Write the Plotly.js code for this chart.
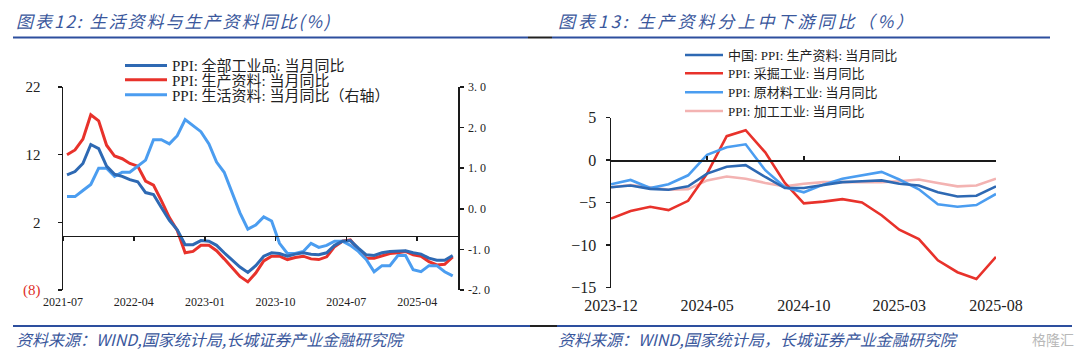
<!DOCTYPE html>
<html><head><meta charset="utf-8">
<script src="https://cdn.plot.ly/plotly-3.0.1.min.js"></script>
<style>html,body{margin:0;padding:0;background:#fff;}#chart{width:1080px;height:357px;}</style>
</head><body><div id="chart"></div>
<script>
// ---------- Data: chart 12 ----------
const monthsL = ["2021-07","2021-08","2021-09","2021-10","2021-11","2021-12",
"2022-01","2022-02","2022-03","2022-04","2022-05","2022-06","2022-07","2022-08","2022-09","2022-10","2022-11","2022-12",
"2023-01","2023-02","2023-03","2023-04","2023-05","2023-06","2023-07","2023-08","2023-09","2023-10","2023-11","2023-12",
"2024-01","2024-02","2024-03","2024-04","2024-05","2024-06","2024-07","2024-08","2024-09","2024-10","2024-11","2024-12",
"2025-01","2025-02","2025-03","2025-04","2025-05","2025-06","2025-07","2025-08"];
const ppiAll = [9.0,9.5,10.7,13.5,12.9,10.3,9.1,8.8,8.3,8.0,6.4,6.1,4.2,2.3,0.9,-1.3,-1.3,-0.7,
-0.8,-1.4,-2.5,-3.6,-4.6,-5.4,-4.4,-3.0,-2.5,-2.6,-3.0,-2.7,
-2.5,-2.7,-2.8,-2.5,-1.4,-0.8,-0.7,-1.8,-2.8,-2.9,-2.5,-2.3,
-2.3,-2.2,-2.5,-2.7,-3.3,-3.6,-3.6,-2.9];
const ppiProd = [12.0,12.7,14.3,17.9,17.0,13.4,11.8,11.4,10.7,10.3,8.1,7.5,5.2,2.7,0.8,-2.5,-2.3,-1.4,
-1.4,-2.2,-3.4,-4.7,-6.0,-6.8,-5.5,-3.7,-3.0,-3.0,-3.5,-3.2,
-3.0,-3.4,-3.5,-3.1,-1.6,-0.8,-0.6,-2.0,-3.3,-3.3,-2.9,-2.6,
-2.5,-2.3,-2.8,-3.0,-3.8,-4.3,-4.2,-3.1];
const ppiCons = [0.3,0.3,0.45,0.6,1.0,1.0,0.8,0.9,0.9,1.05,1.2,1.7,1.7,1.6,1.8,2.2,2.05,1.9,
1.6,1.15,0.9,0.4,-0.1,-0.5,-0.4,-0.2,-0.3,-0.85,-1.1,-1.1,
-1.05,-0.85,-0.95,-0.9,-0.8,-0.8,-0.9,-1.05,-1.25,-1.55,-1.4,-1.4,
-1.15,-1.15,-1.5,-1.55,-1.4,-1.4,-1.55,-1.65];
const leftTickVals = [22,12,2,-8];
const leftTickText = ["22","12","2","<span style=\"color:#e0302a\">(8)</span>"];
const rightTickVals = [3,2,1,0,-1,-2];
const rightTickText = ["3. 0","2. 0","1. 0","0. 0","-1. 0","-2. 0"];
const namesL = ["PPI: 全部工业品: 当月同比","PPI: 生产资料: 当月同比","PPI: 生活资料: 当月同比（右轴）"];

// ---------- Data: chart 13 ----------
const monthsR = ["2023-12","2024-01","2024-02","2024-03","2024-04","2024-05","2024-06","2024-07","2024-08","2024-09","2024-10",
"2024-11","2024-12","2025-01","2025-02","2025-03","2025-04","2025-05","2025-06","2025-07","2025-08"];
const prodMat = [-3.2,-3.0,-3.4,-3.5,-3.1,-1.6,-0.8,-0.6,-2.0,-3.3,-3.3,-2.9,-2.6,-2.5,-2.4,-2.8,-3.0,-3.8,-4.3,-4.2,-3.1];
const mining = [-6.9,-6.0,-5.5,-5.9,-4.8,-1.6,2.8,3.5,0.9,-2.7,-5.1,-4.9,-4.6,-5.0,-6.5,-8.2,-9.3,-11.8,-13.2,-14.0,-11.4];
const rawMat = [-2.85,-2.35,-3.3,-2.85,-1.8,0.6,1.5,1.85,-1.2,-3.2,-3.8,-2.9,-2.2,-1.8,-1.4,-2.3,-3.45,-5.2,-5.5,-5.3,-4.0];
const procInd = [-3.2,-2.95,-3.2,-3.5,-3.45,-2.4,-1.95,-2.2,-2.7,-3.1,-2.8,-2.6,-2.6,-2.6,-2.6,-2.5,-2.3,-2.7,-3.1,-3.0,-2.2];
const namesR = ["中国: PPI: 生产资料: 当月同比","PPI: 采掘工业: 当月同比","PPI: 原材料工业: 当月同比","PPI: 加工工业: 当月同比"];

// ---------- Styling ----------
const W = 1080, H = 357;
const px = v => v / W, py = v => 1 - v / H;
const SERIF = "'Liberation Serif', 'Noto Sans CJK SC', serif";
const CJK = "'Noto Sans CJK SC', sans-serif";
const C_DARK = "#2e69b3", C_RED = "#e8322b", C_LIGHT = "#4b9df0", C_PINK = "#f3b3b2";
const C_TITLE = "#3a579c", C_AX = "#1a1a1a";

const domXL = [px(63), px(458)], domYL = [py(290), py(87)];
const domXR = [px(611), px(996)], domYR = [py(287.5), py(117.5)];
const rangeYL = [-8, 22], rangeYR = [-15, 5];
const zeroPos = (dom, r) => dom[0] + (0 - r[0]) / (r[1] - r[0]) * (dom[1] - dom[0]);

function line(x, y, name, color, w, xa, ya, leg) {
  const t = {type:'scatter', mode:'lines', x:x, y:y, name:name, xaxis:xa, yaxis:ya, legend:leg,
    line:{color:color, width:w}, hoverinfo:'skip'};
  if (xa === 'x' || xa === 'x2') { t.xperiod = 'M1'; t.xperiodalignment = 'middle'; }
  return t;
}

const traces = [
  line(monthsL, ppiAll, namesL[0], C_DARK, 3, 'x2', 'y', 'legend'),
  line(monthsL, ppiProd, namesL[1], C_RED, 3, 'x', 'y', 'legend2'),
  line(monthsL, ppiCons, namesL[2], C_LIGHT, 3, 'x', 'y2', 'legend3'),
  line(monthsR, procInd, namesR[3], C_PINK, 2.6, 'x3', 'y3', 'legend7'),
  line(monthsR, prodMat, namesR[0], C_DARK, 2.6, 'x4', 'y3', 'legend4'),
  line(monthsR, mining, namesR[1], C_RED, 2.6, 'x3', 'y3', 'legend5'),
  line(monthsR, rawMat, namesR[2], C_LIGHT, 2.6, 'x3', 'y3', 'legend6'),
];

function legendAt(xp, yp, size, iw) {
  return {x:px(xp), y:py(yp), xref:'paper', yref:'paper', xanchor:'left', yanchor:'middle',
    bgcolor:'rgba(0,0,0,0)', borderwidth:0, itemwidth:iw, tracegroupgap:0,
    font:{family:SERIF, size:size, color:'#222'}};
}

const layout = {
  width:W, height:H, margin:{l:0,r:0,t:0,b:0}, paper_bgcolor:'#fff', plot_bgcolor:'rgba(0,0,0,0)',
  font:{family:SERIF, color:'#222'}, showlegend:true, hovermode:false,
  xaxis:{type:'date', domain:domXL, anchor:'y', range:['2021-07-01','2025-09-06'],
    tick0:'2021-07-01', dtick:'M9', tickformat:'%Y-%m', showline:false, ticks:'', showgrid:false, zeroline:false,
    tickfont:{family:SERIF, size:12, color:'#222'}, ticklabelstandoff:3},
  xaxis2:{type:'date', overlaying:'x', matches:'x', anchor:'free', position:zeroPos(domYL, rangeYL), domain:domXL,
    tick0:'2021-07-01', dtick:'M9', showline:true, linecolor:C_AX, linewidth:1.5, ticks:'outside', ticklen:4,
    tickwidth:1.5, tickcolor:C_AX, showticklabels:false, showgrid:false, zeroline:false},
  yaxis:{domain:domYL, anchor:'x', range:rangeYL, tickvals:leftTickVals, ticktext:leftTickText,
    showline:true, linecolor:C_AX, linewidth:1.5, ticks:'outside', ticklen:4, tickwidth:1.5, tickcolor:C_AX,
    showgrid:false, zeroline:false, tickfont:{family:SERIF, size:15, color:'#222'}, ticklabelstandoff:14},
  yaxis2:{overlaying:'y', side:'right', anchor:'x', range:[-2,3], tickvals:rightTickVals, ticktext:rightTickText,
    showline:true, linecolor:C_AX, linewidth:1.5, ticks:'outside', ticklen:4, tickwidth:1.5, tickcolor:C_AX,
    showgrid:false, zeroline:false, tickfont:{family:SERIF, size:12, color:'#222'}, ticklabelstandoff:2},
  xaxis3:{type:'date', domain:domXR, anchor:'y3', range:['2023-12-01','2025-08-01'],
    tick0:'2023-12-01', dtick:'M5', tickformat:'%Y-%m', showline:false, ticks:'', showgrid:false, zeroline:false,
    tickfont:{family:SERIF, size:16, color:'#222'}, ticklabelstandoff:6},
  xaxis4:{type:'date', overlaying:'x3', matches:'x3', anchor:'free', position:zeroPos(domYR, rangeYR), domain:domXR,
    tick0:'2023-12-01', dtick:'M5', showline:true, linecolor:C_AX, linewidth:1.5, ticks:'inside', ticklen:4,
    tickwidth:1.5, tickcolor:C_AX, showticklabels:false, showgrid:false, zeroline:false},
  yaxis3:{domain:domYR, anchor:'x3', range:rangeYR, dtick:5, tick0:0,
    showline:true, linecolor:C_AX, linewidth:1.5, ticks:'outside', ticklen:4, tickwidth:1.5, tickcolor:C_AX,
    showgrid:false, zeroline:false, tickfont:{family:SERIF, size:16, color:'#222'}, ticklabelstandoff:6},
  legend:legendAt(120, 65.7, 15, 42),
  legend2:legendAt(120, 80, 15, 42),
  legend3:legendAt(120, 95, 15, 42),
  legend4:legendAt(680, 55, 13, 38),
  legend5:legendAt(680, 73.3, 13, 38),
  legend6:legendAt(680, 92.3, 13, 38),
  legend7:legendAt(680, 111, 13, 38),
  shapes:[
    {type:'line', xref:'paper', yref:'paper', x0:px(13), x1:px(528), y0:py(37.5), y1:py(37.5), line:{color:'#2d4f9e', width:2}},
    {type:'line', xref:'paper', yref:'paper', x0:px(528), x1:px(552), y0:py(37.5), y1:py(37.5), line:{color:'#222', width:2}},
    {type:'line', xref:'paper', yref:'paper', x0:px(552), x1:px(1050), y0:py(37.5), y1:py(37.5), line:{color:'#2d4f9e', width:2}},
    {type:'line', xref:'paper', yref:'paper', x0:px(13), x1:px(530), y0:py(326), y1:py(326), line:{color:'#2d4f9e', width:2}},
    {type:'line', xref:'paper', yref:'paper', x0:px(530), x1:px(557), y0:py(326), y1:py(326), line:{color:'#222', width:2}},
    {type:'line', xref:'paper', yref:'paper', x0:px(557), x1:px(1072), y0:py(326), y1:py(326), line:{color:'#2d4f9e', width:2}}
  ],
  annotations:[
    {xref:'paper', yref:'paper', x:px(14), y:py(20), xanchor:'left', yanchor:'middle', showarrow:false,
     text:'图表12: 生活资料与生产资料同比(%)',
     font:{family:CJK, size:17, color:C_TITLE, style:'italic'}},
    {xref:'paper', yref:'paper', x:px(556), y:py(20), xanchor:'left', yanchor:'middle', showarrow:false,
     text:'图表13: 生产资料分上中下游同比（%）',
     font:{family:CJK, size:17, color:C_TITLE, style:'italic'}},
    {xref:'paper', yref:'paper', x:px(14), y:py(339), xanchor:'left', yanchor:'middle', showarrow:false,
     text:'资料来源：WIND,国家统计局,长城证券产业金融研究院',
     font:{family:CJK, size:16, color:C_TITLE, style:'italic'}},
    {xref:'paper', yref:'paper', x:px(556), y:py(339), xanchor:'left', yanchor:'middle', showarrow:false,
     text:'资料来源：WIND,国家统计局，长城证券产业金融研究院',
     font:{family:CJK, size:16, color:C_TITLE, style:'italic'}},
    {xref:'paper', yref:'paper', x:px(1076), y:py(339), xanchor:'right', yanchor:'middle', showarrow:false,
     text:'格隆汇', font:{family:CJK, size:14, color:'#b8b8b8'}}
  ]
};

Plotly.newPlot('chart', traces, layout, {displayModeBar:false, staticPlot:true}).then(() => {
  // widen character spacing of the two chart titles, keeping their left edge fixed
  const texts = document.querySelectorAll('.annotation-text');
  [[0, 2], [1, 3]].forEach(([i, s]) => {
    const t = texts[i]; if (!t) return;
    const left = t.getBBox().x;
    t.style.letterSpacing = s + 'px';
    t.setAttribute('text-anchor', 'start');
    t.setAttribute('x', left);
  });
});
</script></body></html>
